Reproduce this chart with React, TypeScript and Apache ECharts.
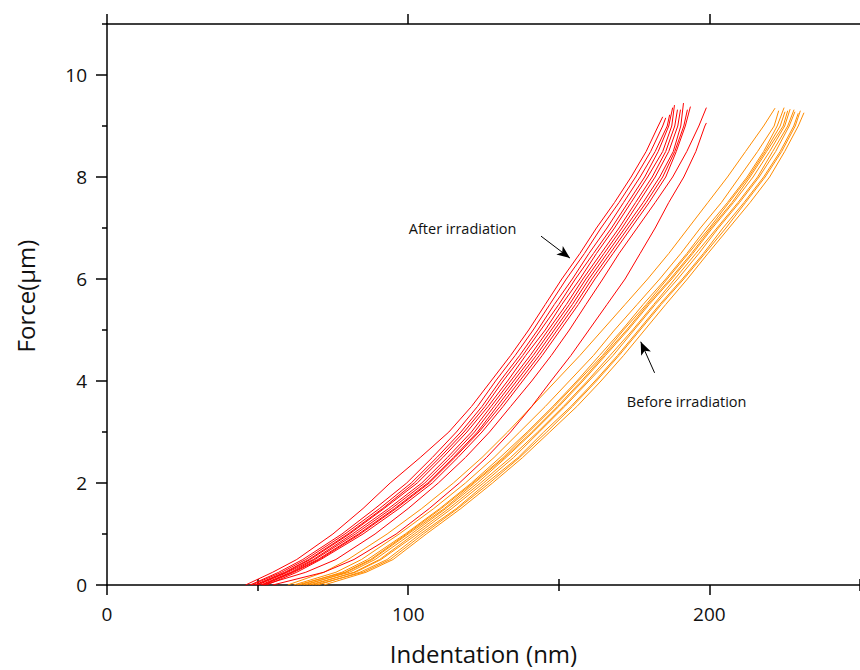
import React, { useEffect, useRef } from "react";
import * as echarts from "echarts";

// Force levels (axis values) at which the indentation of each curve was read
const forceLevels = [0, 0.25, 0.5, 1, 1.5, 2, 2.5, 3, 3.5, 4, 4.5, 5, 5.5, 6, 6.5, 7, 7.5, 8, 8.5, 9];

// After irradiation (red) — indentation (nm) at each force level
const afterIrradiation: number[][] = [
  [46, 55, 63, 75, 85, 94, 104, 113.5, 121, 127.5, 134, 140, 145.5, 151, 157, 162.5, 168.5, 174, 179, 183],
  [47.5, 57, 65, 78, 89, 99.5, 108, 116, 123, 129, 135.5, 141.5, 147, 152.5, 158.5, 164, 170, 175.5, 180.5, 184.5],
  [48, 58, 66, 79, 90.5, 101, 109.5, 117.5, 124.5, 130.5, 137, 143, 148.5, 154.5, 160, 166, 171.5, 177, 182, 186],
  [49, 59, 67, 80, 91.5, 102, 110.5, 118.5, 125.5, 131.5, 138, 144, 150, 155.5, 161.5, 167.5, 173, 178.5, 183, 186.5],
  [49.5, 59.5, 67.5, 80.5, 92, 103, 111.5, 119.5, 126.5, 133, 139, 145.5, 151, 157, 162.5, 168.5, 174, 179.5, 184.5, 187.5],
  [50, 60, 68.5, 81.5, 93.5, 104.5, 113, 121, 127.5, 134, 140.5, 146.5, 152.5, 158, 164, 170, 175.5, 181, 185.5, 188.5],
  [51, 61, 69, 82.5, 94.5, 105.5, 114, 122, 128.5, 135, 141.5, 147.5, 153.5, 159, 165, 171, 176.5, 182, 186.5, 189.5],
  [51.5, 61.5, 70, 83.5, 95.5, 106.5, 115, 123, 129.5, 136, 142.5, 148.5, 154.5, 160, 166, 172, 178, 183.5, 188, 190.5],
  [52, 62, 70.5, 84, 96, 107, 115.5, 123.5, 130.5, 137, 143.5, 149.5, 155.5, 161, 167, 173, 179, 184.5, 188.5, 191.5],
  [53, 63, 71, 85, 97, 108, 116.5, 124.5, 131.5, 138, 144.5, 150.5, 156.5, 162, 168, 174, 180, 185.5, 189, 192],
  [52, 66, 76, 89, 100, 110, 119, 127, 134, 141, 147.5, 153.5, 159, 164.6, 170, 176, 182, 187.8, 192.5, 196.5],
  [55, 72, 82, 96, 107, 117, 126, 134, 141, 147.4, 154, 160, 166, 172, 177, 182, 186.5, 191.5, 195.5, 198.5],
];
const afterEnds: number[][] = [
  [184.5, 9.18], [185.5, 9.16], [186.8, 9.22], [187.8, 9.36], [188.4, 9.41], [189.4, 9.32],
  [190.4, 9.32], [191.4, 9.45], [192.7, 9.32], [193.7, 9.38], [199, 9.36], [199, 9.06],
];

// Before irradiation (orange)
const beforeIrradiation: number[][] = [
  [60, 72, 80, 93, 104.5, 115, 124.5, 133, 141, 149, 157, 164.5, 172, 179.5, 186.5, 193, 199.5, 206, 212, 218],
  [62, 76, 84.5, 97, 108.5, 119, 128.5, 137, 145.5, 153.5, 161.5, 168.5, 176, 183.5, 190.5, 197, 204, 210, 216, 221.5],
  [64, 78, 86.5, 99, 110.5, 121, 130.5, 139.5, 148, 156, 163.5, 171, 178, 185.5, 192.5, 199, 206, 212.5, 218, 222.5],
  [63, 79, 87.5, 99.5, 111, 121.5, 131.5, 140, 148.5, 156.5, 164.5, 171.5, 179, 186, 193, 200, 206.5, 213, 218.5, 223.5],
  [66, 79.5, 88, 100, 112, 122, 132, 141, 149.5, 157.5, 165, 172.5, 179.5, 187, 194, 200.5, 207.5, 213.5, 219, 224.5],
  [65, 80.5, 89, 101, 112.5, 123, 132.5, 141.5, 150, 158, 165.5, 173, 180, 187.5, 194.5, 201, 208, 214.5, 220, 225],
  [68, 82, 90.5, 102, 113.5, 124, 134, 143, 151.5, 159.5, 167, 174.5, 181.5, 188.5, 195.5, 202.5, 209.5, 216, 221, 226],
  [67, 82.5, 91, 103, 114.5, 125, 135, 143.5, 152, 160, 168, 175, 182, 189.5, 196.5, 203, 210, 216.5, 222, 226.5],
  [70, 84, 93, 104, 116, 126, 136.5, 145, 154, 162, 169.5, 176.5, 183.5, 191, 198, 204.5, 211.5, 218, 223.5, 228],
  [69, 85, 94, 105, 116.5, 127, 137, 146, 154.5, 162.5, 170, 177, 184, 191.5, 198.5, 205.5, 212, 218.5, 224, 228.5],
  [72, 86, 95, 106, 117.5, 128, 138, 147, 156, 164, 171.5, 178.5, 185.5, 192.7, 199.5, 206.5, 213.5, 220, 225, 229.5],
];
const beforeEnds: number[][] = [
  [221.8, 9.35], [223, 9.3], [224.8, 9.36], [225.1, 9.28], [226, 9.3], [226.8, 9.33],
  [228.1, 9.32], [228.4, 9.28], [229.5, 9.25], [230.2, 9.3], [231.4, 9.26],
];

// Axis ticks
const xMajorTicks = [0, 100, 200];
const xMinorTicks = [50, 150, 250];
const yMajorTicks = [0, 2, 4, 6, 8, 10];
const yMinorTicks = [1, 3, 5, 7, 9, 11];

// Annotations
const annotationLabels = [
  { name: "After irradiation", coord: [100.2, 6.99] },
  { name: "Before irradiation", coord: [172.6, 3.59] },
];
const annotationArrows = [
  [[144.1, 6.84], [153.7, 6.41]],
  [[181.8, 4.16], [177.2, 4.77]],
];

const FONT = "'Open Sans', 'Noto Sans', sans-serif";

export default function App() {
  const ref = useRef<HTMLDivElement>(null);

  useEffect(() => {
    if (!ref.current) return;
    document.body.style.margin = "0";
    const chart = echarts.init(ref.current, null, { renderer: "svg" });

    const toData = (xs: number[], end: number[]) =>
      forceLevels.map((f, i) => [xs[i], f]).concat([end]);

    const series: any[] = [];
    beforeIrradiation.forEach((xs, i) => {
      series.push({
        type: "line",
        name: "Before irradiation",
        data: toData(xs, beforeEnds[i]),
        showSymbol: false,
        symbol: "none",
        lineStyle: { color: "#ff8c00", width: 1 },
        silent: true,
      });
    });
    afterIrradiation.forEach((xs, i) => {
      series.push({
        type: "line",
        name: "After irradiation",
        data: toData(xs, afterEnds[i]),
        showSymbol: false,
        symbol: "none",
        lineStyle: { color: "#ff0000", width: 1 },
        silent: true,
      });
    });
    // annotations
    series.push({
      type: "line",
      name: "annotations",
      data: [[0, -5]],
      showSymbol: false,
      symbol: "none",
      lineStyle: { width: 0, opacity: 0 },
      silent: true,
      markLine: {
        silent: true,
        animation: false,
        symbol: ["none", "arrow"],
        symbolSize: [8, 13],
        lineStyle: { color: "#000", width: 1, type: "solid" },
        label: { show: false },
        data: annotationArrows.map((a) => [{ coord: a[0] }, { coord: a[1] }]),
      },
      markPoint: {
        silent: true,
        animation: false,
        symbol: "circle",
        symbolSize: 0,
        label: {
          show: true,
          position: "right",
          distance: 0,
          formatter: "{b}",
          color: "#111",
          fontSize: 14.5,
          fontFamily: FONT,
        },
        data: annotationLabels.map((l) => ({ name: l.name, coord: l.coord })),
      },
    });

    const lineStyle = { color: "#000", width: 1.5 };
    const baseX = { type: "value", min: 0, max: 250, splitLine: { show: false } };
    const baseY = { type: "value", min: 0, max: 11, splitLine: { show: false } };

    chart.setOption({
      animation: false,
      backgroundColor: "#fff",
      grid: { left: 107, right: -3, top: 24, bottom: 83, containLabel: false },
      graphic: [
        {
          type: "text",
          x: 25,
          y: 296,
          rotation: Math.PI / 2,
          silent: true,
          style: {
            text: "Force(μm)",
            align: "center",
            verticalAlign: "middle",
            fontSize: 24,
            fontFamily: FONT,
            fill: "#111",
          },
        },
      ],
      xAxis: [
        {
          ...baseX,
          position: "bottom",
          interval: 50,
          axisLine: { show: true, onZero: false, lineStyle },
          axisTick: { show: true, inside: false, length: 10, customValues: xMajorTicks, lineStyle },
          axisLabel: { show: true, customValues: xMajorTicks, margin: 19, fontSize: 19, color: "#111", fontFamily: FONT },
          name: "Indentation (nm)",
          nameLocation: "middle",
          nameGap: 56,
          nameTextStyle: { fontSize: 24, color: "#111", fontFamily: FONT },
        },
        {
          ...baseX,
          position: "bottom",
          interval: 50,
          axisLine: { show: false },
          axisTick: { show: true, inside: false, length: 6, customValues: xMinorTicks, lineStyle },
          axisLabel: { show: false },
        },
        {
          ...baseX,
          position: "top",
          interval: 50,
          axisLine: { show: true, onZero: false, lineStyle },
          axisTick: { show: true, inside: false, length: 10, customValues: xMajorTicks, lineStyle },
          axisLabel: { show: false },
        },
        {
          ...baseX,
          position: "top",
          interval: 50,
          axisLine: { show: false },
          axisTick: { show: true, inside: false, length: 6, customValues: xMinorTicks, lineStyle },
          axisLabel: { show: false },
        },
      ],
      yAxis: [
        {
          ...baseY,
          position: "left",
          interval: 1,
          axisLine: { show: true, onZero: false, lineStyle },
          axisTick: { show: true, inside: false, length: 11, customValues: yMajorTicks, lineStyle },
          axisLabel: { show: true, customValues: yMajorTicks, margin: 20, fontSize: 19, color: "#111", fontFamily: FONT },
        },
        {
          ...baseY,
          position: "left",
          interval: 1,
          axisLine: { show: false },
          axisTick: { show: true, inside: false, length: 5, customValues: yMinorTicks, lineStyle },
          axisLabel: { show: false },
        },
      ],
      series,
    });

    return () => chart.dispose();
  }, []);

  return <div ref={ref} style={{ width: 860, height: 670 }} />;
}
